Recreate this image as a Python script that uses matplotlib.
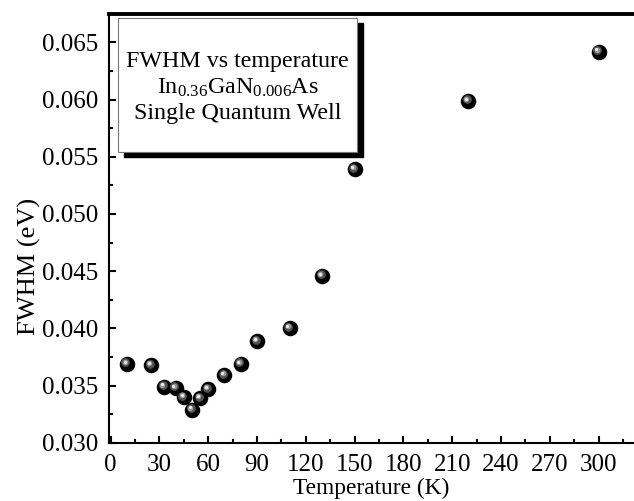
"""
FWHM vs temperature, In0.36GaN0.006As single quantum well.
"""
import matplotlib
matplotlib.use("Agg")
import matplotlib.pyplot as plt
from matplotlib.patches import Rectangle
from matplotlib.ticker import MultipleLocator, FormatStrFormatter
from matplotlib.transforms import offset_copy

# Données
temperature = [10, 25, 33, 40, 45, 50, 55, 60, 70, 80, 90, 110, 130, 150, 220, 300]
fwhm = [0.0369, 0.0368, 0.0349, 0.0348, 0.0340, 0.0329, 0.0339, 0.0347,
        0.0359, 0.0369, 0.0389, 0.0400, 0.0446, 0.0539, 0.0599, 0.0642]
x_ticks = [0, 30, 60, 90, 120, 150, 180, 210, 240, 270, 300]
inset_lines = ["FWHM vs temperature",
               r"In$_{\mathregular{0.36}}$GaN$_{\mathregular{0.006}}$As",
               "Single Quantum Well"]

plt.rcParams["font.family"] = ["Liberation Serif", "DejaVu Serif"]
plt.rcParams["mathtext.fontset"] = "custom"
plt.rcParams["mathtext.rm"] = "Liberation Serif"
plt.rcParams["mathtext.it"] = "Liberation Serif"

_FS_TICK   = 18
_FS_XLABEL = 16.8
_FS_YLABEL = 19
_FS_INSET  = 17.3

fig = plt.figure(figsize=(6.34, 5.01), dpi=100)
ax = fig.add_axes([109.3 / 634, 58.3 / 501, 1 - 109.3 / 634, 428.7 / 501])

# sphères noires avec reflet
ax.scatter(temperature, fwhm, s=125, c="black", zorder=3, linewidths=0)
for dx, dy, size, col in [(-1.0, 1.0, 40, "#505050"),
                          (-1.4, 1.4, 16, "#999999"),
                          (-1.6, 1.6, 5, "#eeeeee")]:
    tr = offset_copy(ax.transData, fig=fig, x=dx, y=dy, units="points")
    ax.scatter(temperature, fwhm, s=size, c=col, zorder=4, linewidths=0,
               transform=tr)

ax.set_xlim(-0.8, 321.8)
ax.set_ylim(0.030, 0.06749)
ax.set_xticks(x_ticks)
ax.xaxis.set_minor_locator(MultipleLocator(15))
ax.yaxis.set_major_locator(MultipleLocator(0.005))
ax.yaxis.set_minor_locator(MultipleLocator(0.0025))
ax.yaxis.set_major_formatter(FormatStrFormatter("%.3f"))

ax.tick_params(which="both", direction="in", width=1.5, labelsize=_FS_TICK,
               top=False, right=False)
ax.tick_params(which="major", length=5, pad=8)
ax.tick_params(which="minor", length=3)

ax.spines["right"].set_visible(False)
ax.spines["top"].set_linewidth(2.8)
ax.spines["left"].set_linewidth(1.5)
ax.spines["bottom"].set_linewidth(1.5)

ax.set_xlabel("Temperature (K)", fontsize=_FS_XLABEL, labelpad=1.5)
ax.set_ylabel("FWHM (eV)", fontsize=_FS_YLABEL, labelpad=0.5, y=0.41)

# encadré avec ombre portée
bx, by, bw, bh = 0.0172, 0.6788, 0.4543, 0.3112
ax.add_patch(Rectangle((bx + 0.0114, by - 0.0117), bw, bh, transform=ax.transAxes,
                       facecolor="black", edgecolor="black", zorder=5))
ax.add_patch(Rectangle((bx, by), bw, bh, transform=ax.transAxes,
                       facecolor="white", edgecolor="#777777", lw=0.8, zorder=6))
for line, yy in zip(inset_lines, [0.8900, 0.8270, 0.7670]):
    ax.text(bx + bw / 2, yy, line, transform=ax.transAxes, ha="center",
            va="center", fontsize=_FS_INSET, zorder=7)

fig.savefig("out.png", dpi=100)
